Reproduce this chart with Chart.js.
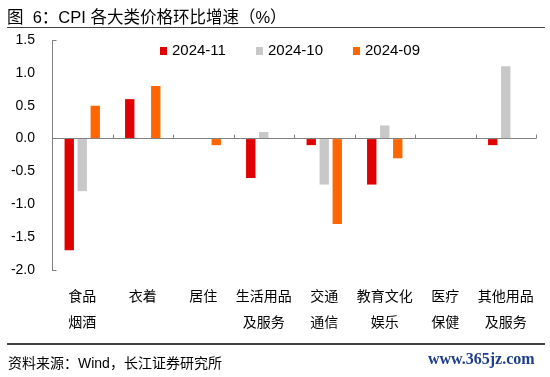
<!DOCTYPE html>
<html>
<head>
<meta charset="utf-8">
<script src="https://cdn.jsdelivr.net/npm/chart.js@4"></script>
<style>
  html, body { margin: 0; padding: 0; background: #fff; }
  #wrap { position: relative; width: 550px; height: 377px; overflow: hidden; }
  #c { position: absolute; left: 0; top: 0; }
  .title { position: absolute; left: 7px; top: 4px; font: 16.5px "Liberation Sans", "Noto Sans CJK SC", sans-serif; color: #000; white-space: nowrap; }
  .rule { position: absolute; left: 7px; width: 538px; height: 1.5px; background: #444; }
  .src { position: absolute; left: 8px; top: 352px; font: 14px "Liberation Sans", "Noto Sans CJK SC", sans-serif; color: #000; white-space: nowrap; }
  .wm { position: absolute; left: 428px; top: 350px; font: bold 16px "Liberation Serif", "DejaVu Serif", serif; color: #1f3f8a; white-space: nowrap; }
  .legend { position: absolute; top: 41px; font: 15px "Liberation Sans", Arial, sans-serif; color: #000; white-space: nowrap; }
  .legend span.sw { display: inline-block; width: 7px; height: 8px; margin-right: 5px; vertical-align: 0px; }
</style>
</head>
<body>
<div id="wrap">
  <canvas id="c" width="550" height="377"></canvas>
  <div class="title">图&nbsp;&nbsp;6：CPI 各大类价格环比增速（%）</div>
  <div class="rule" style="top:26.5px"></div>
  <div class="rule" style="top:343px"></div>
  <div class="src">资料来源：Wind，长江证券研究所</div>
  <div class="wm">www.365jz.com</div>
  <div id="legend"></div>
</div>
<script>
const categories = [["食品","烟酒"],"衣着","居住",["生活用品","及服务"],["交通","通信"],["教育文化","娱乐"],["医疗","保健"],["其他用品","及服务"]];
const seriesNames = ["2024-11","2024-10","2024-09"];
const nov = [-1.7, 0.6, 0, -0.6, -0.1, -0.7, 0, -0.1];
const oct = [-0.8, 0, 0, 0.1, -0.7, 0.2, 0, 1.1];
const sep = [0.5, 0.8, -0.1, 0, -1.3, -0.3, 0, 0];
const yTicks = [1.5, 1.0, 0.5, 0.0, -0.5, -1.0, -1.5, -2.0];
const colors = ["#e00000", "#c8c8c8", "#ff6600"];

// HTML legend
const legendX = [160, 256, 353];
const lg = document.getElementById('legend');
seriesNames.forEach((n, i) => {
  const d = document.createElement('div');
  d.className = 'legend';
  d.style.left = legendX[i] + 'px';
  d.innerHTML = '<span class="sw" style="background:' + colors[i] + '"></span>' + n;
  lg.appendChild(d);
});

const tickPlugin = {
  id: 'ticksInside',
  afterDraw(chart) {
    const ctx = chart.ctx, x = chart.scales.x, y = chart.scales.y;
    const y0 = y.getPixelForValue(0);
    ctx.save();
    ctx.strokeStyle = '#808080';
    ctx.lineWidth = 1;
    const n = categories.length;
    const w = (x.right - x.left) / n;
    for (let i = 1; i <= n; i++) {
      const px = Math.round(x.left + i * w) + 0.5;
      ctx.beginPath(); ctx.moveTo(px, y0); ctx.lineTo(px, y0 - 4); ctx.stroke();
    }
    const ax = Math.round(y.right) + 0.5;
    [yTicks[0], yTicks[yTicks.length - 1]].forEach(v => {
      const py = Math.round(y.getPixelForValue(v)) + 0.5;
      ctx.beginPath(); ctx.moveTo(ax, py); ctx.lineTo(ax + 4, py); ctx.stroke();
    });
    ctx.restore();
  }
};

new Chart(document.getElementById('c'), {
  type: 'bar',
  data: {
    labels: categories,
    datasets: [
      { label: seriesNames[0], data: nov, backgroundColor: colors[0] },
      { label: seriesNames[1], data: oct, backgroundColor: colors[1] },
      { label: seriesNames[2], data: sep, backgroundColor: colors[2] }
    ]
  },
  options: {
    responsive: false,
    animation: false,
    devicePixelRatio: 1,
    layout: { padding: { top: 40, right: 14, bottom: 37, left: 0 } },
    datasets: { bar: { categoryPercentage: 0.645, barPercentage: 0.72 } },
    plugins: { legend: { display: false }, tooltip: { enabled: false } },
    scales: {
      x: {
        grid: { display: false, drawTicks: false },
        border: { display: false },
        ticks: {
          color: '#000',
          padding: 12,
          maxRotation: 0,
          autoSkip: false,
          font: { family: '"Noto Sans CJK SC", sans-serif', size: 14, lineHeight: 1.9 }
        },
        afterFit(s) { s.height = 70; }
      },
      y: {
        min: -2, max: 1.5,
        afterBuildTicks(s) { s.ticks = yTicks.map(v => ({ value: v })); },
        grid: {
          drawTicks: false,
          color: ctx => (ctx.tick && ctx.tick.value === 0) ? '#808080' : 'rgba(0,0,0,0)',
          lineWidth: 1
        },
        border: { color: '#808080', width: 1 },
        ticks: {
          color: '#000',
          padding: 17,
          font: { family: '"Liberation Sans", Arial, sans-serif', size: 14 },
          callback: v => Number(v).toFixed(1)
        },
        afterFit(s) { s.width = 52; }
      }
    }
  },
  plugins: [tickPlugin]
});
</script>
</body>
</html>
